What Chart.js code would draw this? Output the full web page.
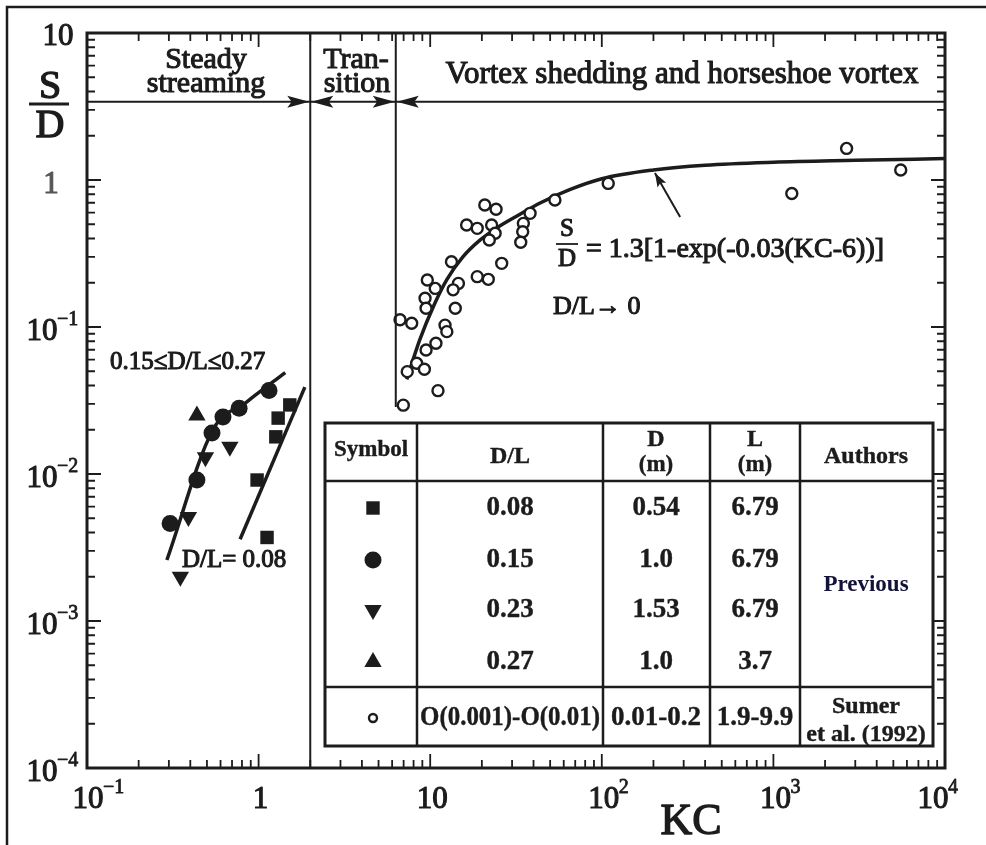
<!DOCTYPE html>
<html>
<head>
<meta charset="utf-8">
<script src="https://cdn.jsdelivr.net/npm/chart.js@4.4.1/dist/chart.umd.min.js"></script>
<style>
  html, body { margin: 0; padding: 0; background: #fff; }
  canvas { display: block; }
</style>
</head>
<body>
<canvas id="chart" width="986" height="845"></canvas>
<script>
// values (KC on x, S/D on y)
const kcSquare = [0.98, 1.12, 1.26, 1.30, 1.52];
const sdSquare = [0.0091, 0.0037, 0.0179, 0.024, 0.0295];

const kcCircle = [0.305, 0.437, 0.535, 0.62, 0.77, 1.15];
const sdCircle = [0.0046, 0.0091, 0.019, 0.0244, 0.028, 0.037];

const kcTriDown = [0.35, 0.39, 0.49, 0.68];
const sdTriDown = [0.002, 0.0051, 0.013, 0.0153];

const kcTriUp = [0.437];
const sdTriUp = [0.025];

const kcSumer = [20.8, 24.2, 16.3, 18.8, 22.8, 23.9, 22.1, 38.2, 34.9, 34.6, 33.7, 53.3, 109,
  26.1, 13.3, 18.8, 21.8, 14.6, 13.6, 14.0, 9.62, 10.7, 9.33, 9.46, 6.67, 7.80, 12.2, 12.5,
  10.8, 9.46, 8.34, 9.25, 7.35, 11.1, 6.97, 2670, 5520, 1280];
const sdSumer = [0.676, 0.632, 0.494, 0.469, 0.494, 0.434, 0.391, 0.593, 0.507, 0.445, 0.377, 0.731, 0.948,
  0.271, 0.278, 0.220, 0.211, 0.198, 0.179, 0.134, 0.209, 0.183, 0.157, 0.134, 0.112, 0.106, 0.103, 0.093,
  0.0775, 0.0698, 0.0567, 0.0516, 0.0497, 0.0369, 0.0294, 1.64, 1.17, 0.81];

// fitted lines
const kcFitA = [0.292, 0.542, 0.855, 1.43];
const sdFitA = [0.0026, 0.020, 0.031, 0.049];
const kcFitB = [0.78, 1.86];
const sdFitB = [0.0036, 0.039];
const kcCurve = [7.3, 8.7, 10.5, 12.5, 15.5, 19.5, 25, 33, 44, 65, 100, 200, 400, 1000, 3000, 10000];
const sdCurve = [0.044, 0.082, 0.14, 0.21, 0.30, 0.39, 0.48, 0.58, 0.70, 0.86, 1.02, 1.17, 1.26, 1.32, 1.36, 1.40];

// regime boundaries
const regionBounds = [2, 6.3];
const regionLineY = 3.4;
const boundBottom = 0.0286;

const tableHead = ["Symbol", "D/L", "D", "L", "Authors"];
const tableDL = ["0.08", "0.15", "0.23", "0.27", "O(0.001)-O(0.01)"];
const tableD = ["0.54", "1.0", "1.53", "1.0", "0.01-0.2"];
const tableL = ["6.79", "6.79", "6.79", "3.7", "1.9-9.9"];

const INK = "#1c1c1c";
const SERIF = '"Liberation Serif", "DejaVu Serif", serif';

const pts = (xs, ys) => xs.map((x, i) => ({ x: x, y: ys[i] }));

function text(ctx, s, x, y, size, opt) {
  opt = opt || {};
  ctx.save();
  ctx.font = (opt.weight || "normal") + " " + size + "px " + SERIF;
  ctx.fillStyle = opt.color || INK;
  ctx.textAlign = opt.align || "center";
  ctx.textBaseline = "middle";
  if (opt.maxWidth) ctx.fillText(s, x, y, opt.maxWidth);
  else ctx.fillText(s, x, y);
  if (opt.heavy) {
    ctx.strokeStyle = opt.color || INK;
    ctx.lineWidth = opt.heavy === true ? 1.1 : opt.heavy;
    ctx.lineJoin = "round";
    if (opt.maxWidth) ctx.strokeText(s, x, y, opt.maxWidth);
    else ctx.strokeText(s, x, y);
  }
  ctx.restore();
}

function power(ctx, exp, x, y) {
  text(ctx, "10", x, y, 31, { heavy: true });
  text(ctx, String(exp).replace("-", "\u2212"), x + 15, y - 12, 20, { align: "left", heavy: 0.8 });
}

function arrowHead(ctx, tx, ty, dx, dy, len, half) {
  const n = Math.hypot(dx, dy);
  const ux = dx / n, uy = dy / n;
  ctx.beginPath();
  ctx.moveTo(tx, ty);
  ctx.lineTo(tx - ux * len - uy * half, ty - uy * len + ux * half);
  ctx.lineTo(tx - ux * len * 0.8, ty - uy * len * 0.8);
  ctx.lineTo(tx - ux * len + uy * half, ty - uy * len - ux * half);
  ctx.closePath();
  ctx.fill();
}

const decor = {
  id: "decor",
  afterDraw(chart) {
    const ctx = chart.ctx;
    const xs = chart.scales.x, ys = chart.scales.y;
    const a = chart.chartArea;
    ctx.save();
    ctx.strokeStyle = INK;
    ctx.fillStyle = INK;

    // page frame (top and left)
    ctx.lineWidth = 2.5;
    ctx.beginPath();
    ctx.moveTo(7, 845); ctx.lineTo(7, 7); ctx.lineTo(986, 7);
    ctx.stroke();

    // plot frame
    ctx.lineWidth = 3;
    ctx.strokeRect(a.left, a.top, a.right - a.left, a.bottom - a.top);

    // inward ticks
    ctx.lineWidth = 1.8;
    for (let d = -1; d <= 4; d++) {
      for (let m = 1; m <= 9; m++) {
        const v = m * Math.pow(10, d);
        if (v < 0.1 || v > 10000) continue;
        const px = xs.getPixelForValue(v);
        const len = m === 1 ? 14 : 8;
        ctx.beginPath();
        ctx.moveTo(px, a.bottom); ctx.lineTo(px, a.bottom - len);
        ctx.moveTo(px, a.top); ctx.lineTo(px, a.top + len);
        ctx.stroke();
      }
    }
    for (let d = -4; d <= 1; d++) {
      for (let m = 1; m <= 9; m++) {
        const v = m * Math.pow(10, d);
        if (v < 1e-4 || v > 10) continue;
        const py = ys.getPixelForValue(v);
        const len = m === 1 ? 14 : 8;
        ctx.beginPath();
        ctx.moveTo(a.left, py); ctx.lineTo(a.left + len, py);
        ctx.moveTo(a.right, py); ctx.lineTo(a.right - len, py);
        ctx.stroke();
      }
    }

    // tick labels
    text(ctx, "10", 58, ys.getPixelForValue(10) + 4, 31, { heavy: true });
    text(ctx, "1", 51, ys.getPixelForValue(1) + 5, 31, { heavy: true, color: "#555" });
    [-1, -2, -3, -4].forEach(e => power(ctx, e, 42, ys.getPixelForValue(Math.pow(10, e)) + 5));
    power(ctx, -1, xs.getPixelForValue(0.1) + 1, 800);
    text(ctx, "1", xs.getPixelForValue(1) + 2, 800, 31, { heavy: true });
    text(ctx, "10", xs.getPixelForValue(10) + 2, 800, 31, { heavy: true });
    [2, 3, 4].forEach(e => power(ctx, e, xs.getPixelForValue(Math.pow(10, e)) + (e === 4 ? -12 : 2), 800));

    // axis titles
    text(ctx, "KC", 691, 822, 44, { heavy: 1.4 });
    text(ctx, "S", 50, 87, 40, { heavy: 1.4 });
    text(ctx, "D", 50, 126, 40, { heavy: 1.4 });
    ctx.lineWidth = 3;
    ctx.beginPath(); ctx.moveTo(29, 104); ctx.lineTo(69, 104); ctx.stroke();

    // regime lines
    const xb1 = xs.getPixelForValue(regionBounds[0]);
    const xb2 = xs.getPixelForValue(regionBounds[1]);
    const yh = ys.getPixelForValue(regionLineY);
    ctx.lineWidth = 2;
    ctx.beginPath();
    ctx.moveTo(a.left, yh); ctx.lineTo(a.right, yh);
    ctx.moveTo(xb1, a.top); ctx.lineTo(xb1, a.bottom);
    ctx.moveTo(xb2, a.top); ctx.lineTo(xb2, ys.getPixelForValue(boundBottom));
    ctx.stroke();
    arrowHead(ctx, xb1 - 1, yh, 1, 0, 22, 6);
    arrowHead(ctx, xb1 + 1, yh, -1, 0, 22, 6);
    arrowHead(ctx, xb2 - 1, yh, 1, 0, 22, 6);
    arrowHead(ctx, xb2 + 1, yh, -1, 0, 22, 6);

    text(ctx, "Steady", 206, 60, 30, { heavy: true });
    text(ctx, "streaming", 206, 84, 30, { heavy: true });
    text(ctx, "Tran-", 356, 60, 30, { heavy: true });
    text(ctx, "sition", 357, 84, 30, { heavy: true });
    text(ctx, "Vortex shedding and horseshoe vortex", 682, 75, 31, { heavy: true, maxWidth: 486 });

    // curve annotation
    const tipX = xs.getPixelForValue(204), tipY = ys.getPixelForValue(1.17) + 3;
    const tailX = xs.getPixelForValue(286), tailY = ys.getPixelForValue(0.56);
    ctx.lineWidth = 2;
    ctx.beginPath(); ctx.moveTo(tailX, tailY); ctx.lineTo(tipX, tipY); ctx.stroke();
    arrowHead(ctx, tipX, tipY, tipX - tailX, tipY - tailY, 14, 5);

    text(ctx, "S", 567, 229, 25, { heavy: true });
    text(ctx, "D", 567, 259, 25, { heavy: true });
    ctx.lineWidth = 1.8;
    ctx.beginPath(); ctx.moveTo(556, 244); ctx.lineTo(578, 244); ctx.stroke();
    text(ctx, "= 1.3[1-exp(-0.03(KC-6))]", 586, 250, 28, { align: "left", heavy: true, maxWidth: 320 });
    text(ctx, "D/L\u2192 0", 553, 307, 26, { align: "left", heavy: true, maxWidth: 92 });

    text(ctx, "0.15\u2264D/L\u22640.27", 110, 362, 25, { align: "left", heavy: true, maxWidth: 186 });
    text(ctx, "D/L= 0.08", 182, 560, 25, { align: "left", heavy: true, maxWidth: 126 });

    // table
    const T = { l: 325, t: 423, r: 933, b: 746, hb: 481, rs: 687 };
    const cols = [417, 603, 710, 800];
    ctx.fillStyle = "#fff";
    ctx.fillRect(T.l, T.t, T.r - T.l, T.b - T.t);
    ctx.fillStyle = INK;
    ctx.lineWidth = 3;
    ctx.strokeRect(T.l, T.t, T.r - T.l, T.b - T.t);
    ctx.lineWidth = 2.5;
    ctx.beginPath();
    ctx.moveTo(T.l, T.hb); ctx.lineTo(T.r, T.hb);
    ctx.moveTo(T.l, T.rs); ctx.lineTo(T.r, T.rs);
    cols.forEach(c => { ctx.moveTo(c, T.t); ctx.lineTo(c, T.b); });
    ctx.stroke();

    const cx = [371, 510, 656, 755, 866];
    const hb = { weight: "bold", heavy: 0.4 };
    text(ctx, tableHead[0], cx[0], 450, 23, Object.assign({ maxWidth: 80 }, hb));
    text(ctx, tableHead[1], cx[1], 457, 24, hb);
    text(ctx, tableHead[2], cx[2], 440, 24, hb);
    text(ctx, "(m)", cx[2], 465, 23, hb);
    text(ctx, tableHead[3], cx[3], 440, 24, hb);
    text(ctx, "(m)", cx[3], 465, 23, hb);
    text(ctx, tableHead[4], cx[4], 457, 24, Object.assign({ maxWidth: 84 }, hb));

    const rowY = [508, 560, 610, 662, 718];
    const sym = [
      { pointStyle: "rect", radius: 9.5, rotation: 0, borderWidth: 0, open: false },
      { pointStyle: "circle", radius: 8.5, rotation: 0, borderWidth: 0, open: false },
      { pointStyle: "triangle", radius: 10, rotation: 180, borderWidth: 0, open: false },
      { pointStyle: "triangle", radius: 10, rotation: 0, borderWidth: 0, open: false },
      { pointStyle: "circle", radius: 4, rotation: 0, borderWidth: 2.4, open: true }
    ];
    rowY.forEach((y, i) => {
      ctx.save();
      ctx.fillStyle = sym[i].open ? "#fff" : INK;
      ctx.strokeStyle = INK;
      ctx.lineWidth = sym[i].borderWidth;
      Chart.helpers.drawPoint(ctx, sym[i], cx[0] + 2, y);
      ctx.restore();
      text(ctx, tableDL[i], cx[1], y, 27, Object.assign({ maxWidth: 180 }, hb));
      text(ctx, tableD[i], cx[2], y, 27, Object.assign({ maxWidth: 100 }, hb));
      text(ctx, tableL[i], cx[3], y, 27, Object.assign({ maxWidth: 84 }, hb));
    });
    text(ctx, "Previous", cx[4], 585, 23, { weight: "bold", color: "#12123a" });
    text(ctx, "Sumer", cx[4], 707, 24, Object.assign({ maxWidth: 80 }, hb));
    text(ctx, "et al. (1992)", cx[4], 735, 24, Object.assign({ maxWidth: 126 }, hb));

    ctx.restore();
  }
};

const filled = (style, r, rot) => ({
  pointStyle: style, pointRadius: r, pointRotation: rot || 0,
  pointBackgroundColor: INK, pointBorderColor: INK, pointBorderWidth: 0, showLine: false
});

new Chart(document.getElementById("chart"), {
  type: "scatter",
  data: {
    datasets: [
      Object.assign({ label: "D/L = 0.08", data: pts(kcSquare, sdSquare) }, filled("rect", 9.5)),
      Object.assign({ label: "D/L = 0.15", data: pts(kcCircle, sdCircle) }, filled("circle", 8.5)),
      Object.assign({ label: "D/L = 0.23", data: pts(kcTriDown, sdTriDown) }, filled("triangle", 10, 180)),
      Object.assign({ label: "D/L = 0.27", data: pts(kcTriUp, sdTriUp) }, filled("triangle", 10)),
      {
        label: "Sumer et al. (1992)", data: pts(kcSumer, sdSumer), showLine: false,
        pointStyle: "circle", pointRadius: 5.5, pointBackgroundColor: "#fff",
        pointBorderColor: INK, pointBorderWidth: 2.4
      },
      {
        type: "line", label: "fit 0.15-0.27", data: pts(kcFitA, sdFitA), showLine: true,
        borderColor: INK, borderWidth: 3.5, pointRadius: 0, cubicInterpolationMode: "monotone"
      },
      {
        type: "line", label: "fit 0.08", data: pts(kcFitB, sdFitB), showLine: true,
        borderColor: INK, borderWidth: 3.5, pointRadius: 0
      },
      {
        type: "line", label: "S/D = 1.3[1-exp(-0.03(KC-6))]", data: pts(kcCurve, sdCurve), showLine: true,
        borderColor: INK, borderWidth: 3.5, pointRadius: 0, cubicInterpolationMode: "monotone"
      }
    ]
  },
  options: {
    responsive: false,
    animation: false,
    events: [],
    layout: { padding: { left: 87, right: 41, top: 33, bottom: 77 } },
    plugins: { legend: { display: false }, tooltip: { enabled: false } },
    scales: {
      x: { type: "logarithmic", min: 0.1, max: 10000, display: false },
      y: { type: "logarithmic", min: 0.0001, max: 10, display: false }
    }
  },
  plugins: [decor]
});
</script>
</body>
</html>
